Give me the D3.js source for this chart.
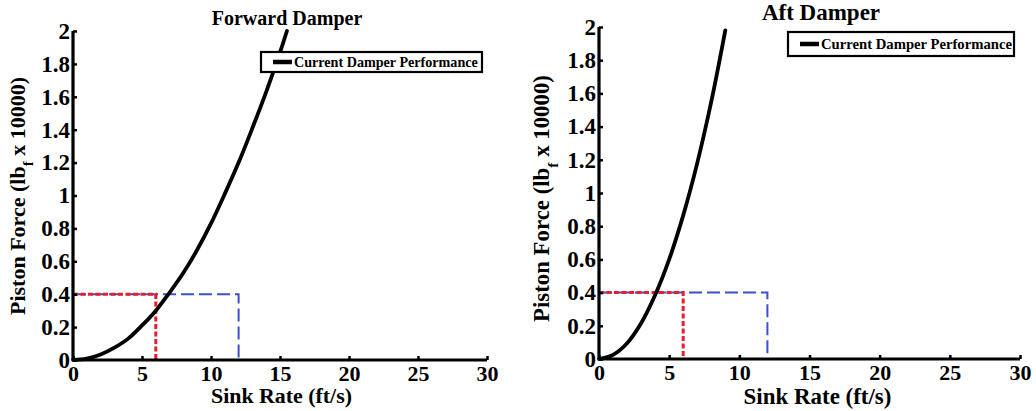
<!DOCTYPE html>
<html>
<head>
<meta charset="utf-8">
<script src="https://cdn.jsdelivr.net/npm/d3@7"></script>
<style>
  html, body { margin: 0; padding: 0; background: #fff; }
  svg { display: block; }
</style>
</head>
<body>
<svg id="chart" width="1036" height="411"></svg>
<script>
// ---- data ----
const xTicks = [0, 5, 10, 15, 20, 25, 30];
const yTicks = [0, 0.2, 0.4, 0.6, 0.8, 1, 1.2, 1.4, 1.6, 1.8, 2];
const yTickLabels = ["0", "0.2", "0.4", "0.6", "0.8", "1", "1.2", "1.4", "1.6", "1.8", "2"];

const fwdSink  = [0, 1, 2, 3, 4, 5, 6, 7, 8, 9, 10, 11, 12, 13, 14, 15, 15.5];
const fwdForce = [0, 0.008, 0.033, 0.075, 0.13, 0.21, 0.3, 0.41, 0.53, 0.67, 0.83, 1.01, 1.2, 1.41, 1.63, 1.87, 2.0];

const aftSink  = [0, 1, 2, 3, 4, 5, 6, 7, 8, 9];
const aftForce = [0, 0.025, 0.095, 0.215, 0.385, 0.6, 0.865, 1.18, 1.55, 1.98];

const blueSink  = [0, 12, 12];
const blueForce = [0.4, 0.4, 0];
const redSink   = [0, 6, 6];
const redForce  = [0.4, 0.4, 0];

const titles = ["Forward Damper", "Aft Damper"];
const legendLabel = "Current Damper Performance";
const xLabel = "Sink Rate (ft/s)";

const FONT = "'Liberation Serif'";

// ---- drawing ----
const svg = d3.select("#chart");

function txt(sel, size) {
  return sel.attr("font-family", null).style("font-family", FONT)
    .style("font-weight", "bold").style("font-size", size + "px").style("fill", "#000");
}

function fitWidth(sel, size, target) {
  const len = sel.node().getComputedTextLength();
  if (len > 0) sel.style("font-size", (size * target / len).toFixed(2) + "px");
  return sel;
}

function panel(cfg, curveX, curveY, title) {
  const g = svg.append("g");
  const x = d3.scaleLinear().domain([0, 30]).range([cfg.x0, cfg.x1]);
  const y = d3.scaleLinear().domain([0, 2]).range([cfg.y0, cfg.y1]);

  const line = d3.line().x(d => x(d[0])).y(d => y(d[1]));

  g.append("path")
    .datum(d3.zip(blueSink, blueForce))
    .attr("d", line)
    .attr("fill", "none")
    .attr("stroke", "#3b4fcf")
    .attr("stroke-width", 2)
    .attr("stroke-dasharray", "13,5");

  g.append("path")
    .datum(d3.zip(redSink, redForce))
    .attr("d", line)
    .attr("fill", "none")
    .attr("stroke", "#e3202b")
    .attr("stroke-width", 3)
    .attr("stroke-dasharray", "5,2.5");

  g.append("path")
    .datum(d3.zip(curveX, curveY))
    .attr("d", d3.line().x(d => x(d[0])).y(d => y(d[1])).curve(d3.curveCatmullRom))
    .attr("fill", "none")
    .attr("stroke", "#000")
    .attr("stroke-width", 3.8)
    .attr("stroke-linecap", "round");

  const xAxis = d3.axisBottom(x).tickValues(xTicks).tickSize(-4).tickPadding(5).tickFormat(d3.format("d"));
  const gx = g.append("g").attr("transform", `translate(0,${cfg.y0})`).call(xAxis);
  gx.attr("font-family", null).attr("font-size", null);
  gx.select(".domain").attr("stroke-width", 3.2).attr("d", `M${cfg.x0},0H${cfg.x1}`);
  gx.selectAll(".tick line").attr("stroke-width", 2.5);
  txt(gx.selectAll("text"), 22).attr("dy", "0.72em");

  const yAxis = d3.axisLeft(y).tickValues(yTicks).tickSize(-4).tickPadding(3)
    .tickFormat((d, i) => yTickLabels[i]);
  const gy = g.append("g").attr("transform", `translate(${cfg.x0},0)`).call(yAxis);
  gy.attr("font-family", null).attr("font-size", null);
  gy.select(".domain").attr("stroke-width", 3.2).attr("d", `M0,${cfg.y0}V${cfg.y1}`);
  gy.selectAll(".tick line").attr("stroke-width", 2.5);
  txt(gy.selectAll("text"), 23);

  txt(g.append("text").attr("x", cfg.titleX).attr("y", cfg.titleY)
    .attr("text-anchor", "middle"), cfg.titleSize).text(title);

  const xl = txt(g.append("text").attr("x", (cfg.x0 + cfg.x1) / 2 + cfg.xlabOff).attr("y", cfg.y0 + cfg.xlabDy)
    .attr("text-anchor", "middle"), 22).text(xLabel);
  fitWidth(xl, 22, cfg.xlabW);

  const yl = txt(g.append("text")
    .attr("transform", `translate(${cfg.ylabX},${cfg.ylabY}) rotate(-90)`)
    .attr("text-anchor", "middle"), 22);
  yl.append("tspan").text("Piston Force (lb");
  yl.append("tspan").attr("baseline-shift", "sub").style("font-size", "0.68em").text("f");
  yl.append("tspan").attr("baseline-shift", "0").text(" x 10000)");
  fitWidth(yl, 22, cfg.ylabW);

  const lg = g.append("g");
  lg.append("rect").attr("x", cfg.legX).attr("y", cfg.legY).attr("width", cfg.legW).attr("height", cfg.legH)
    .attr("fill", "#fff").attr("stroke", "#000").attr("stroke-width", 2.2);
  const ly = cfg.legY + cfg.legH / 2;
  lg.append("line").attr("x1", cfg.legX + 12).attr("x2", cfg.legX + 31).attr("y1", ly).attr("y2", ly)
    .attr("stroke", "#000").attr("stroke-width", 4.5);
  const lt = txt(lg.append("text").attr("x", cfg.legX + 33).attr("y", ly).attr("dy", "0.35em"), 14).text(legendLabel);
  fitWidth(lt, 14, cfg.legTextW);
}

panel({x0: 73, x1: 487, y0: 360, y1: 31, titleX: 287, titleY: 25, titleSize: 20,
       xlabOff: 1.5, xlabDy: 43, xlabW: 141,
       ylabX: 25, ylabY: 196, ylabW: 238,
       legX: 261, legY: 52, legW: 221, legH: 20, legTextW: 184},
      fwdSink, fwdForce, titles[0]);
panel({x0: 599, x1: 1020, y0: 359, y1: 27, titleX: 821, titleY: 20, titleSize: 23,
       xlabOff: 8, xlabDy: 45, xlabW: 148,
       ylabX: 549, ylabY: 198.5, ylabW: 247,
       legX: 788, legY: 32, legW: 226, legH: 24, legTextW: 191},
      aftSink, aftForce, titles[1]);
</script>
</body>
</html>
